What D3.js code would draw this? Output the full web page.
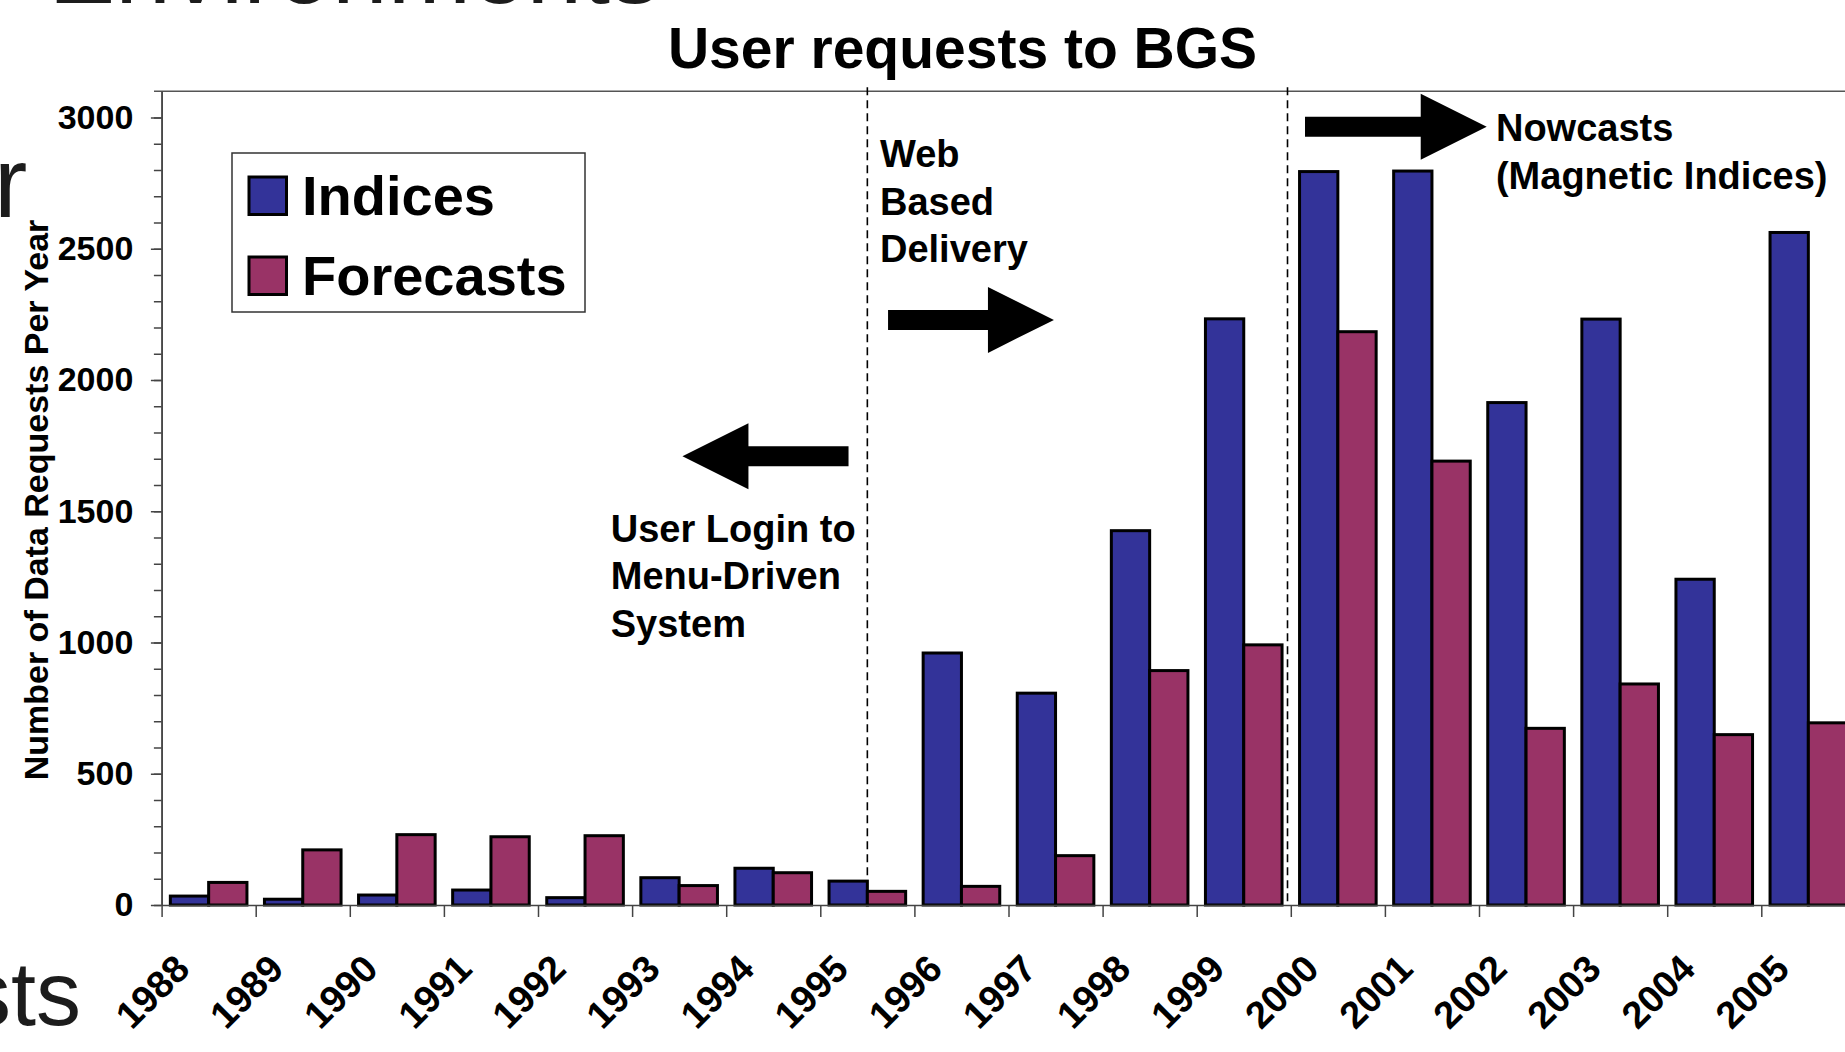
<!DOCTYPE html>
<html><head><meta charset="utf-8">
<script src="https://cdn.jsdelivr.net/npm/d3@7"></script>
<style>
body{margin:0;background:#fff;overflow:hidden}
svg{display:block}
text{font-family:"Liberation Sans",Arial,Helvetica,sans-serif}
</style>
</head><body>
<svg id="c" width="1845" height="1052"></svg>
<script>
// ---- data ----
const years = ["1988","1989","1990","1991","1992","1993","1994","1995","1996","1997","1998","1999","2000","2001","2002","2003","2004","2005"];
const indices   = [34,22,38,57,28,104,140,91,960,807,1426,2233,2794,2796,1914,2232,1241,2562];
const forecasts = [86,210,268,260,264,74,123,52,71,188,893,991,2184,1691,673,842,649,694];
const seriesNames = ["Indices","Forecasts"];
const yMajorTicks = [0,500,1000,1500,2000,2500,3000];
const yMinorTicks = d3.range(0, 3001, 100);
const titleText = "User requests to BGS";
const yTitle = "Number of Data Requests Per Year";
const dividers = [7.5, 11.965];           // category-index positions of the dashed lines
const arrows = [                            // category-index positions + value level
  {from: 7.72,  to: 9.483,  v: 2229},
  {from: 7.30,  to: 5.535,  v: 1710},
  {from: 12.151,to: 14.082, v: 2965}
];
const notes = [
  {f: 7.634, v: 2811, lines: ["Web","Based","Delivery"]},
  {f: 4.773, v: 1384, lines: ["User Login to","Menu-Driven","System"]},
  {f: 14.18, v: 2910, lines: ["Nowcasts","(Magnetic Indices)"]}
];

// ---- layout ----
const colors = {Indices: "#333399", Forecasts: "#993366"};
const svg = d3.select("#c");
const W = 1845, H = 1052;
svg.append("rect").attr("width", W).attr("height", H).attr("fill", "#fff");

const x0 = 161.6, step = 94.1, yBase = 905, yTop = 91.25;
const x = d3.scaleBand().domain(years).range([x0, x0 + step * years.length]).padding(0);
const xb = d3.scaleLinear().domain([0, years.length]).range(x.range());
const x1 = d3.scaleBand().domain(seriesNames).range([0, x.bandwidth()]).paddingInner(0).paddingOuter(0.2285);
const y = d3.scaleLinear().domain([0, 3100]).range([yBase, yTop]);

// background slide text fragments (cut by the slide crop in the original)
svg.append("text").attr("x", 660).attr("y", 3).attr("text-anchor", "end")
  .attr("font-size", 100).attr("fill", "#1c1c1c").text("Environments");
svg.append("text").attr("x", -6).attr("y", 217)
  .attr("font-size", 100).attr("fill", "#1c1c1c").text("r");
svg.append("text").attr("x", 81).attr("y", 1025).attr("text-anchor", "end")
  .attr("font-size", 90).attr("fill", "#1c1c1c").text("sts");

// top border of plot area
svg.append("line").attr("x1", 154).attr("x2", W).attr("y1", yTop).attr("y2", yTop)
  .attr("stroke", "#555").attr("stroke-width", 1.5);

// dashed divider lines
svg.selectAll("line.div").data(dividers).join("line").attr("class", "div")
  .attr("x1", d => xb(d)).attr("x2", d => xb(d))
  .attr("y1", yTop - 4).attr("y2", yBase)
  .attr("stroke", "#000").attr("stroke-width", 1.6).attr("stroke-dasharray", "8,5");

// bars
const rows = years.map((yr, i) => ({year: yr, Indices: indices[i], Forecasts: forecasts[i]}));
const groups = svg.append("g").selectAll("g").data(rows).join("g")
  .attr("transform", d => `translate(${x(d.year)},0)`);
groups.selectAll("rect").data(d => seriesNames.map(k => ({k, v: d[k]}))).join("rect")
  .attr("x", d => x1(d.k)).attr("width", x1.bandwidth())
  .attr("y", d => y(d.v)).attr("height", d => y(0) - y(d.v))
  .attr("fill", d => colors[d.k]).attr("stroke", "#000").attr("stroke-width", 3);

// y axis
const gyMinor = svg.append("g").attr("transform", `translate(${x0},0)`)
  .call(d3.axisLeft(y).tickValues(yMinorTicks).tickSize(7.7).tickFormat("").tickSizeOuter(0));
const gy = svg.append("g").attr("transform", `translate(${x0},0)`)
  .call(d3.axisLeft(y).tickValues(yMajorTicks).tickSize(10.7).tickPadding(17.6).tickSizeOuter(0).tickFormat(d3.format("d")));
[gyMinor, gy].forEach(g => {
  g.attr("font-family", null).attr("font-size", null);
  g.selectAll("line,path").attr("stroke", "#444").attr("stroke-width", 1.5);
});
gy.selectAll("text").attr("font-size", 34).attr("font-weight", "bold").attr("fill", "#000");

// x axis: boundary ticks + baseline
const gxb = svg.append("g").attr("transform", `translate(0,${yBase})`)
  .call(d3.axisBottom(xb).tickValues(d3.range(0, years.length + 1)).tickSize(12).tickFormat("").tickSizeOuter(0));
gxb.selectAll("line,path").attr("stroke", "#444").attr("stroke-width", 1.5);
// x labels
const gx = svg.append("g").attr("transform", `translate(0,${yBase})`)
  .call(d3.axisBottom(x).tickSize(0).tickPadding(0));
gx.attr("font-family", null).attr("font-size", null);
gx.select(".domain").remove();
gx.selectAll("text").attr("y", 0).attr("dy", 0).attr("x", 0)
  .attr("text-anchor", "end").attr("transform", "translate(-17,66) rotate(-45)")
  .attr("font-size", 38).attr("font-weight", "bold").attr("fill", "#000");

// y title
svg.append("text").attr("transform", "translate(48,500) rotate(-90)").attr("text-anchor", "middle")
  .attr("font-size", 34).attr("font-weight", "bold").text(yTitle);

// title
svg.append("text").attr("x", 962.5).attr("y", 68).attr("text-anchor", "middle")
  .attr("font-size", 57).attr("font-weight", "bold").text(titleText);

// legend
const lg = svg.append("g");
lg.append("rect").attr("x", 232).attr("y", 153).attr("width", 353).attr("height", 159)
  .attr("fill", "#fff").attr("stroke", "#333").attr("stroke-width", 1.5);
seriesNames.forEach((s, i) => {
  lg.append("rect").attr("x", 249).attr("y", 177 + i * 80).attr("width", 37.5).attr("height", 37.5)
    .attr("fill", colors[s]).attr("stroke", "#000").attr("stroke-width", 3);
  lg.append("text").attr("x", 302).attr("y", 215 + i * 80)
    .attr("font-size", 56).attr("font-weight", "bold").text(s);
});

// arrows
const headLen = 66, headHalf = 33, shaftHalf = 10;
svg.selectAll("polygon.arrow").data(arrows).join("polygon").attr("class", "arrow")
  .attr("points", d => {
    const t = xb(d.from), p = xb(d.to), dir = Math.sign(p - t), hb = p - dir * headLen, c = y(d.v);
    return [[t, c - shaftHalf], [hb, c - shaftHalf], [hb, c - headHalf], [p, c], [hb, c + headHalf], [hb, c + shaftHalf], [t, c + shaftHalf]]
      .map(q => q.join(",")).join(" ");
  }).attr("fill", "#000");

// annotation text
notes.forEach(n => {
  const t = svg.append("text").attr("font-size", 38).attr("font-weight", "bold").attr("fill", "#000");
  n.lines.forEach((l, i) => {
    t.append("tspan").attr("x", xb(n.f)).attr("y", y(n.v) + i * 47.5).text(l);
  });
});
</script>
</body></html>
